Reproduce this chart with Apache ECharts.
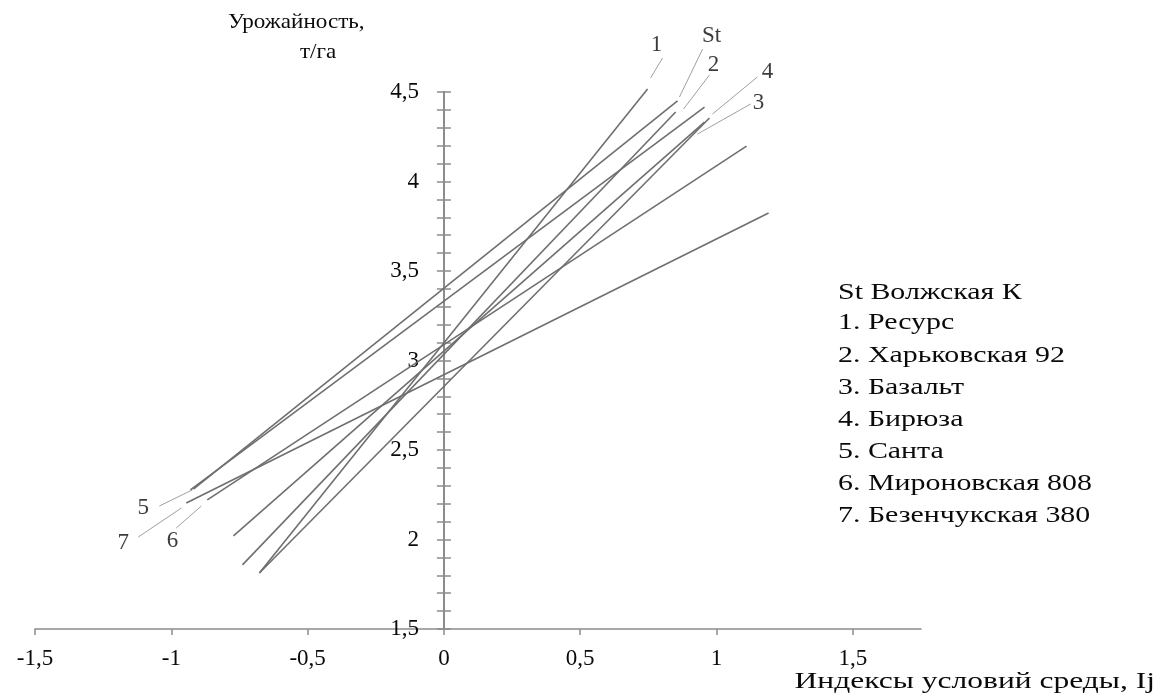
<!DOCTYPE html>
<html><head><meta charset="utf-8">
<script src="https://cdn.jsdelivr.net/npm/echarts@6/dist/echarts.min.js"></script>
<style>html,body{margin:0;padding:0;background:#fff}#c{width:1163px;height:700px}</style>
</head><body><div id="c"></div>
<script>
// ---- data ----
const seriesNames = ['St Волжская К','1. Ресурс','2. Харьковская 92','3. Базальт','4. Бирюза','5. Санта','6. Мироновская 808','7. Безенчукская 380'];
const lineLabels = ['St','1','2','3','4','5','6','7'];
const xStart = [-0.919,-0.677,-0.739,-0.772,-0.677,-0.930,-0.868,-0.945];
const yStart = [2.282,1.813,1.858,2.020,1.813,2.277,2.221,2.204];
const xEnd   = [0.857,0.747,0.850,0.956,0.974,0.956,1.110,1.191];
const yEnd   = [4.450,4.517,4.388,4.332,4.355,4.416,4.198,3.824];
// leader lines (from line end to label) and label anchors
const leadX0 = [0.864,0.758,0.879,0.930,0.985,-0.923,-0.890,-0.963];
const leadY0 = [4.472,4.578,4.405,4.265,4.377,2.277,2.187,2.176];
const leadX1 = [0.949,0.802,0.974,1.125,1.150,-1.044,-0.982,-1.121];
const leadY1 = [4.740,4.690,4.595,4.433,4.584,2.187,2.064,2.014];
const labX   = [0.982,0.780,0.989,1.154,1.187,-1.103,-0.996,-1.176];
const labY   = [4.813,4.763,4.651,4.439,4.612,2.176,1.992,1.980];
const xTicks = [-1.5,-1,-0.5,0,0.5,1,1.5];
const yMin = 1.5, yMax = 4.5, yStep = 0.5;
const xMin = -1.5, xMax = 1.75;
const yTitle = ['Урожайность,','т/га'];
const xTitle = 'Индексы условий среды, Ij';

const FONT = '"Liberation Serif","Times New Roman",serif';
const LINE = '#6f6f6f', AX = '#8c8c8c', TXT = '#0a0a0a';
const fmt = v => String(v).replace('.', ',');

const W = 1163, GL = 35, GR = 242;
// y axis crosses the x axis at x = 0
const yAxisShift = (W - GL - GR) * (0 - xMin) / (xMax - xMin);

const series = [];
seriesNames.forEach((n, i) => {
  series.push({
    name: n, type: 'line', symbol: 'none', silent: true, animation: false, clip: false,
    data: [[xStart[i], yStart[i]], [xEnd[i], yEnd[i]]],
    lineStyle: { color: LINE, width: 1.6 }
  });
  series.push({
    type: 'line', symbol: 'none', silent: true, animation: false, clip: false,
    data: [[leadX0[i], leadY0[i]], [leadX1[i], leadY1[i]]],
    lineStyle: { color: '#a0a0a0', width: 1 }
  });
});
series.push({
  type: 'scatter', symbolSize: 0, silent: true, animation: false, clip: false,
  data: lineLabels.map((t, i) => ({ value: [labX[i], labY[i]], name: t })),
  label: { show: true, position: 'inside', formatter: p => p.name,
           fontFamily: FONT, fontSize: 23, color: TXT }
});

const graphics = [];
const txt = (text, x, y, align, size, sx) => graphics.push({
  type: 'text', x: x, y: y, scaleX: sx, silent: true,
  style: { text: text, font: size + 'px ' + FONT, fill: TXT, textAlign: align, textVerticalAlign: 'middle' }
});
txt(yTitle[0], 228, 22, 'left', 22, 1.05);
txt(yTitle[1], 300, 52, 'left', 22, 1.05);
txt(xTitle, 1155, 682, 'right', 23, 1.37);
const legY = [293, 323, 356, 388, 420, 452, 484, 516];
seriesNames.forEach((n, i) => txt(n, 838, legY[i], 'left', 23, 1.3));

const yBase = {
  type: 'value', min: yMin, max: yMax, interval: yStep, position: 'left', offset: -yAxisShift,
  splitLine: { show: false },
  axisLine: { show: true, onZero: false, lineStyle: { color: AX, width: 2 } },
  minorTick: { show: true, splitNumber: 5, length: 7, lineStyle: { color: AX, width: 1.5 } },
  minorSplitLine: { show: false }
};

const option = {
  animation: false,
  backgroundColor: '#fff',
  grid: { left: GL, right: GR, top: 92, bottom: 71, containLabel: false, outerBoundsMode: 'none' },
  xAxis: {
    type: 'value', min: xMin, max: xMax, interval: 0.5,
    splitLine: { show: false },
    axisLine: { onZero: false, lineStyle: { color: AX, width: 1.5 } },
    axisTick: { show: true, length: 6, customValues: xTicks, lineStyle: { color: AX, width: 1.5 } },
    axisLabel: { customValues: xTicks, formatter: fmt, margin: 18,
                 fontFamily: FONT, fontSize: 23, color: TXT }
  },
  yAxis: [
    Object.assign({}, yBase, {
      axisTick: { show: true, length: 7, inside: false, lineStyle: { color: AX, width: 1.5 } },
      axisLabel: { formatter: fmt, margin: 25, fontFamily: FONT, fontSize: 23, color: TXT }
    }),
    Object.assign({}, yBase, {
      axisTick: { show: true, length: 7, inside: true, lineStyle: { color: AX, width: 1.5 } },
      axisLabel: { show: false }
    })
  ],
  graphic: graphics,
  series: series
};
echarts.init(document.getElementById('c')).setOption(option);
</script>
</body></html>
